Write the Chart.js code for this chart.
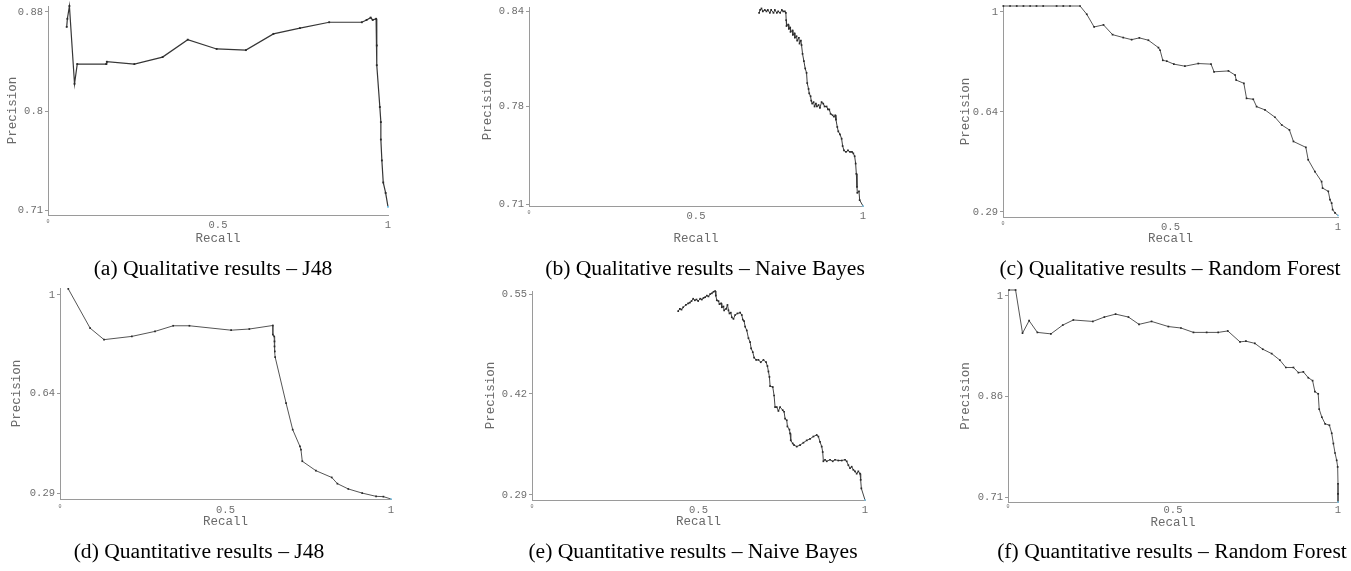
<!DOCTYPE html>
<html>
<head>
<meta charset="utf-8">
<script src="https://cdn.jsdelivr.net/npm/chart.js@4.4.1/dist/chart.umd.min.js"></script>
<style>
  html, body { margin:0; padding:0; background:#fff; }
  #root { position:relative; width:1351px; height:571px; overflow:hidden; background:#fff; }
  .cap { position:absolute; font-family:'Liberation Serif','DejaVu Serif',serif; font-size:21.6px; color:#000; white-space:nowrap; transform:translate(-50%,-50%); }
</style>
</head>
<body>
<div id="root"></div>
<script>
// ---------------- DATA ----------------
const xTickValues = [0, 0.5, 1];
const xTickLabels = ["0", "0.5", "1"];

// (a) Qualitative results – J48
const aRecall    = [0.055,0.057,0.063,0.078,0.086,0.171,0.173,0.254,0.337,0.411,0.496,0.582,0.663,0.741,0.827,0.923,0.937,0.949,0.955,0.965,0.967,0.967,0.976,0.979,0.979,0.982,0.986,0.993,1.0];
const aPrecision = [0.867,0.874,0.885,0.818,0.835,0.835,0.837,0.835,0.841,0.856,0.848,0.847,0.861,0.866,0.871,0.871,0.873,0.875,0.873,0.874,0.851,0.834,0.798,0.785,0.770,0.752,0.733,0.724,0.712];
const aYTicks = [0.709, 0.794, 0.880];
const aYLabels = ["0.71", "0.8", "0.88"];

// (b) Qualitative results – Naive Bayes
const bRecall = [0.689,0.692,0.696,0.700,0.706,0.711,0.715,0.721,0.725,0.732,0.736,0.742,0.746,0.752,0.757,0.761,0.766,
  0.769,0.770,0.771,0.776,0.778,0.782,0.783,0.789,0.790,0.795,0.796,0.801,0.803,0.808,0.810,0.814,0.816,
  0.819,0.823,0.827,0.831,0.833,0.837,0.839,0.843,0.845,0.848,
  0.852,0.855,0.859,0.862,0.867,0.871,0.876,0.881,0.885,0.891,
  0.895,0.899,0.903,0.909,0.913,0.917,0.919,0.923,0.926,0.931,
  0.936,0.939,0.943,0.949,0.955,0.961,0.967,0.971,0.975,0.978,
  0.980,0.982,0.983,0.988,0.990,1.000];
const bPrecision = [0.840,0.842,0.843,0.841,0.842,0.841,0.842,0.840,0.842,0.840,0.842,0.840,0.841,0.840,0.842,0.841,0.841,
  0.840,0.835,0.831,0.832,0.829,0.830,0.827,0.828,0.825,0.826,0.823,0.824,0.821,0.823,0.819,0.821,0.818,
  0.812,0.807,0.802,0.799,0.792,0.788,0.785,0.783,0.780,0.778,
  0.779,0.776,0.778,0.776,0.777,0.775,0.779,0.778,0.776,0.776,
  0.774,0.774,0.771,0.770,0.769,0.770,0.767,0.762,0.759,0.757,
  0.754,0.749,0.746,0.745,0.746,0.745,0.745,0.744,0.742,0.737,
  0.730,0.721,0.717,0.718,0.712,0.708];
const bYTicks = [0.709, 0.776, 0.841];
const bYLabels = ["0.71", "0.78", "0.84"];

// (c) Qualitative results – Random Forest
const cRecall = [0.001,0.021,0.041,0.061,0.081,0.100,0.120,0.160,0.180,0.200,0.230,
  0.250,0.272,0.300,0.327,0.359,0.384,0.407,0.434,0.464,0.469,
  0.477,0.489,0.510,0.543,0.583,0.621,0.630,0.673,0.693,0.696,
  0.719,0.727,0.747,0.757,0.782,0.812,0.832,0.855,0.867,0.904,
  0.911,0.931,0.951,0.954,0.971,0.976,0.981,0.984,0.991,1.000];
const cPrecision = [1,1,1,1,1,1,1,1,1,1,1,
  0.972,0.929,0.936,0.903,0.893,0.886,0.892,0.884,0.859,0.850,
  0.816,0.813,0.803,0.796,0.805,0.803,0.777,0.780,0.766,0.749,
  0.738,0.687,0.684,0.659,0.648,0.623,0.597,0.580,0.541,0.521,
  0.479,0.439,0.405,0.383,0.372,0.344,0.332,0.310,0.299,0.290];
const cYTicks = [0.302, 0.641, 0.980];
const cYLabels = ["0.29", "0.64", "1"];

// (d) Quantitative results – J48
const dRecall = [0.025,0.091,0.133,0.217,0.287,0.342,0.391,0.517,0.572,0.643,
  0.643,0.647,0.648,0.648,0.649,0.650,0.683,0.703,0.725,0.728,
  0.732,0.773,0.821,0.838,0.871,0.913,0.955,0.977,1.000];
const dPrecision = [0.997,0.864,0.825,0.836,0.853,0.872,0.872,0.857,0.861,0.873,
  0.842,0.836,0.819,0.802,0.785,0.766,0.610,0.520,0.463,0.452,
  0.413,0.381,0.358,0.337,0.319,0.305,0.294,0.293,0.285];
const dYTicks = [0.303, 0.642, 0.977];
const dYLabels = ["0.29", "0.64", "1"];

// (e) Quantitative results – Naive Bayes
const eRecall = [0.439,0.444,0.449,0.454,0.462,0.469,0.474,0.479,0.484,0.489,0.494,0.499,0.505,0.510,0.515,0.520,0.525,0.530,0.535,0.540,0.545,0.550,
  0.552,0.555,0.560,0.563,0.568,0.570,0.575,0.577,0.583,0.587,
  0.590,0.593,0.597,0.600,0.605,0.610,0.617,0.625,0.630,0.633,
  0.637,0.640,0.645,0.650,0.655,0.658,0.663,0.667,0.673,0.680,
  0.687,0.695,0.703,0.707,0.710,0.713,0.715,0.723,0.727,0.730,
  0.735,0.740,0.745,0.753,0.757,0.760,0.765,0.767,0.773,0.775,
  0.777,0.783,0.787,0.795,0.805,0.815,0.825,0.835,0.845,0.855,
  0.860,0.865,0.870,0.873,0.875,0.880,0.885,0.895,0.903,0.910,
  0.920,0.930,0.940,0.945,0.950,0.955,0.960,0.965,0.970,0.975,
  0.980,0.985,0.987,0.989,1.000];
const ePrecision = [0.529,0.532,0.531,0.534,0.537,0.539,0.540,0.542,0.545,0.543,0.544,0.542,0.545,0.544,0.546,0.547,0.549,0.548,0.551,0.552,0.554,0.555,
  0.549,0.543,0.542,0.538,0.539,0.534,0.535,0.530,0.532,0.537,
  0.530,0.526,0.527,0.521,0.519,0.524,0.526,0.527,0.524,0.518,
  0.516,0.509,0.504,0.494,0.489,0.481,0.476,0.469,0.466,0.466,
  0.463,0.466,0.463,0.458,0.451,0.444,0.432,0.431,0.420,0.405,
  0.405,0.400,0.405,0.401,0.399,0.390,0.388,0.380,0.376,0.371,
  0.362,0.358,0.356,0.354,0.356,0.359,0.362,0.364,0.367,0.369,
  0.367,0.360,0.354,0.347,0.335,0.337,0.335,0.337,0.335,0.337,
  0.336,0.336,0.337,0.335,0.330,0.326,0.328,0.324,0.322,0.319,
  0.322,0.319,0.311,0.300,0.285];
const eYTicks = [0.2915, 0.422, 0.551];
const eYLabels = ["0.29", "0.42", "0.55"];

// (f) Quantitative results – Random Forest
const fRecall = [0.003,0.023,0.044,0.064,0.089,0.130,0.166,0.198,0.257,0.292,
  0.326,0.365,0.397,0.435,0.486,0.524,0.562,0.602,0.637,0.666,
  0.703,0.721,0.748,0.772,0.799,0.824,0.842,0.865,0.880,0.895,
  0.910,0.923,0.930,0.940,0.943,0.951,0.961,0.974,0.981,0.986,
  0.991,0.996,0.999,1.0,1.0,1.0];
const fPrecision = [1.000,1.000,0.941,0.958,0.942,0.940,0.952,0.959,0.957,0.963,
  0.967,0.963,0.953,0.957,0.950,0.948,0.942,0.942,0.942,0.944,
  0.929,0.930,0.927,0.919,0.913,0.904,0.894,0.894,0.887,0.888,
  0.880,0.876,0.861,0.858,0.837,0.826,0.817,0.815,0.804,0.790,
  0.777,0.767,0.758,0.735,0.721,0.710];
const fYTicks = [0.716, 0.855, 0.992];
const fYLabels = ["0.71", "0.86", "1"];

const captions = [
  "(a) Qualitative results – J48",
  "(b) Qualitative results – Naive Bayes",
  "(c) Qualitative results – Random Forest",
  "(d) Quantitative results – J48",
  "(e) Quantitative results – Naive Bayes",
  "(f) Quantitative results – Random Forest"
];

// ---------------- LAYOUT / STYLE ----------------
const MONO = "'Liberation Mono','DejaVu Sans Mono',monospace";
const TICK_COLOR = '#6e6e6e';
const TITLE_COLOR = '#6a6a6a';
const AXIS_COLOR = '#9a9a9a';

const panels = [
  { recall:aRecall, precision:aPrecision, yTicks:aYTicks, yLabels:aYLabels, yMin:0.705, yMax:0.885,
    L:48, R:388, T:6, B:215, yTitlePad:17.5, xTitlePad:13.5, xTickPad:3.7, line:'#363636', lw:1.2, pr:1.3 },
  { recall:bRecall, precision:bPrecision, yTicks:bYTicks, yLabels:bYLabels, yMin:0.708, yMax:0.844,
    L:529, R:863, T:7, B:206, yTitlePad:11.5, xTitlePad:4.5, xTickPad:3.7, line:'#3a3a3a', lw:1, pr:1.2 },
  { recall:cRecall, precision:cPrecision, yTicks:cYTicks, yLabels:cYLabels, yMin:0.285, yMax:1.0,
    L:1003, R:1338, T:6, B:217, yTitlePad:15.5, xTitlePad:15.5, xTickPad:3.7, line:'#555', lw:1, pr:1.2 },
  { recall:dRecall, precision:dPrecision, yTicks:dYTicks, yLabels:dYLabels, yMin:0.285, yMax:1.0,
    L:60, R:391, T:288, B:499, yTitlePad:9.5, xTitlePad:14.5, xTickPad:4.7, line:'#555', lw:1, pr:1.2 },
  { recall:eRecall, precision:ePrecision, yTicks:eYTicks, yLabels:eYLabels, yMin:0.285, yMax:0.555,
    L:532, R:865, T:291, B:500, yTitlePad:11.5, xTitlePad:15.5, xTickPad:3.7, line:'#444', lw:1, pr:1.2 },
  { recall:fRecall, precision:fPrecision, yTicks:fYTicks, yLabels:fYLabels, yMin:0.71, yMax:1.0,
    L:1008, R:1338, T:290, B:502, yTitlePad:10.5, xTitlePad:16.5, xTickPad:1.7, line:'#555', lw:1, pr:1.2 }
];
const captionPos = [[213,268],[705,268],[1170,268],[199,551],[693,551],[1172,551]];

const root = document.getElementById('root');
const Y_W = 60, X_H = 45, PAD_T = 10, PAD_R = 12;

panels.forEach((p) => {
  const cw = p.R - p.L + Y_W + PAD_R;
  const ch = p.B - p.T + PAD_T + X_H;
  const cv = document.createElement('canvas');
  cv.width = cw; cv.height = ch;
  cv.style.cssText = `position:absolute;left:${p.L - Y_W}px;top:${p.T - PAD_T}px;width:${cw}px;height:${ch}px;`;
  root.appendChild(cv);
  const pts = p.recall.map((x, i) => ({ x: x, y: p.precision[i] }));
  const last = pts.length - 1;
  new Chart(cv, {
    type: 'scatter',
    data: { datasets: [{
      data: pts, showLine: true, tension: 0, clip: false,
      borderColor: p.line, borderWidth: p.lw,
      pointStyle: 'rect', pointRadius: p.pr, pointHoverRadius: 0, pointBorderWidth: 0,
      pointBackgroundColor: (ctx) => ctx.dataIndex === last ? '#74c3ea' : '#2a2a2a'
    }]},
    options: {
      responsive: false, animation: false, devicePixelRatio: 1, events: [],
      layout: { padding: { left: 0, top: PAD_T, right: PAD_R, bottom: 0 } },
      plugins: { legend: { display: false }, tooltip: { enabled: false } },
      scales: {
        x: {
          type: 'linear', min: 0, max: 1,
          afterBuildTicks: (s) => { s.ticks = xTickValues.map(v => ({ value: v })); },
          afterFit: (s) => { s.height = X_H; },
          ticks: {
            autoSkip: false, maxRotation: 0, minRotation: 0, padding: p.xTickPad, color: TICK_COLOR,
            font: (ctx) => ({ family: MONO, size: ctx.index === 0 ? 5 : 10.5 }),
            callback: (v, i) => xTickLabels[i]
          },
          grid: { display: false, drawTicks: false, tickLength: 0 },
          border: { display: true, color: AXIS_COLOR, width: 1 },
          title: { display: true, text: 'Recall', color: TITLE_COLOR, font: { family: MONO, size: 12.5 },
                   padding: { top: 0, bottom: p.xTitlePad } }
        },
        y: {
          type: 'linear', min: p.yMin, max: p.yMax,
          afterBuildTicks: (s) => { s.ticks = p.yTicks.map(v => ({ value: v })); },
          afterFit: (s) => { s.width = Y_W; },
          ticks: {
            autoSkip: false, padding: 2, color: TICK_COLOR,
            font: { family: MONO, size: 10.5 },
            callback: (v, i) => p.yLabels[i]
          },
          grid: { display: true, drawOnChartArea: false, drawTicks: true, tickLength: 3, color: AXIS_COLOR },
          border: { display: true, color: AXIS_COLOR, width: 1 },
          title: { display: true, text: 'Precision', color: TITLE_COLOR, font: { family: MONO, size: 12.5 },
                   padding: { top: p.yTitlePad, bottom: 0 } }
        }
      }
    }
  });
});

captions.forEach((t, i) => {
  const d = document.createElement('div');
  d.className = 'cap';
  d.textContent = t;
  d.style.left = captionPos[i][0] + 'px';
  d.style.top = captionPos[i][1] + 'px';
  root.appendChild(d);
});
</script>
</body>
</html>
